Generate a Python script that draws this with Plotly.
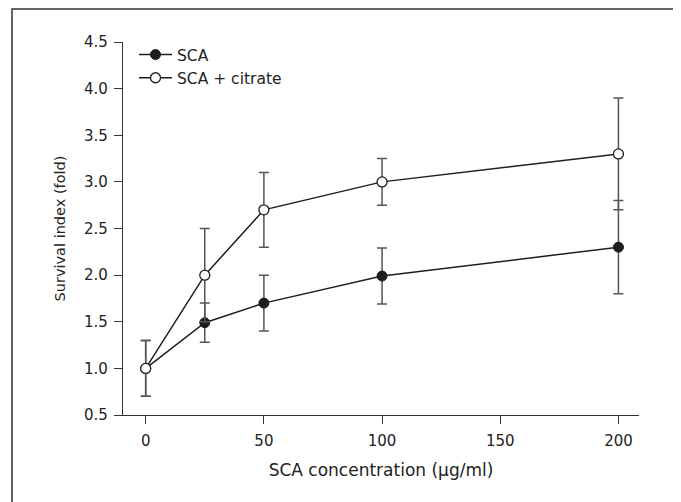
import plotly.graph_objects as go

# ---- data ----
conc = [0, 25, 50, 100, 200]
sca = [1.0, 1.49, 1.70, 1.99, 2.30]
sca_err = [0.30, 0.21, 0.30, 0.30, 0.50]
cit = [1.0, 2.0, 2.70, 3.0, 3.30]
cit_err = [0.30, 0.50, 0.40, 0.25, 0.60]
series_names = ["SCA", "SCA + citrate"]
y_ticks = [0.5, 1.0, 1.5, 2.0, 2.5, 3.0, 3.5, 4.0, 4.5]
x_ticks = [0, 50, 100, 150, 200]

FONT = "DejaVu Sans"
INK = "#1e1e1e"
ERR = "#555555"

fig = go.Figure()
fig.add_trace(go.Scatter(
    x=conc, y=sca, name=series_names[0], mode="lines+markers",
    line=dict(color=INK, width=1.5),
    marker=dict(size=10, color=INK, line=dict(color=INK, width=1)),
    error_y=dict(type="data", array=sca_err, color=ERR, thickness=1.5, width=5),
))
fig.add_trace(go.Scatter(
    x=conc, y=cit, name=series_names[1], mode="lines+markers",
    line=dict(color=INK, width=1.5),
    marker=dict(size=10, color="white", line=dict(color=INK, width=1.3)),
    error_y=dict(type="data", array=cit_err, color=ERR, thickness=1.5, width=5),
))

# page body has an 8px default margin; compensate so the plot sits where the reference has it
OFF = 8
W, H = 681 - OFF, 502 - OFF
L, R, T, B = 123 - OFF, 42, 42 - OFF, 87
pw, ph = W - L - R, H - T - B


def px_x(p):
    return (p - OFF - L) / pw


def px_y(p):
    return (H - B - (p - OFF)) / ph


fig.update_layout(
    width=W, height=H,
    margin=dict(l=L, r=R, t=T, b=B, pad=0),
    paper_bgcolor="white", plot_bgcolor="white",
    font=dict(family=FONT, size=15, color="#222"),
    showlegend=True,
    legend=dict(
        x=px_x(134), y=px_y(38), xanchor="left", yanchor="top",
        bgcolor="rgba(0,0,0,0)", font=dict(family=FONT, size=15.5, color="#222"),
        itemwidth=33, tracegroupgap=0,
    ),
    xaxis=dict(
        range=[-9.6, 208.7], tickvals=x_ticks, ticktext=[str(v) for v in x_ticks],
        showgrid=False, zeroline=False, showline=True, linecolor="#333", linewidth=1.3,
        ticks="outside", ticklen=8, tickwidth=1.3, tickcolor="#333",
        tickfont=dict(family=FONT, size=15, color="#222"), ticklabelstandoff=4,
        title=dict(text="SCA concentration (µg/ml)", font=dict(family=FONT, size=17, color="#222"), standoff=14),
    ),
    yaxis=dict(
        range=[0.5, 4.5], tickvals=y_ticks, ticktext=[f"{v:.1f}" for v in y_ticks],
        showgrid=False, zeroline=False, showline=True, linecolor="#333", linewidth=1.3,
        ticks="outside", ticklen=8, tickwidth=1.3, tickcolor="#333",
        tickfont=dict(family=FONT, size=15, color="#222"), ticklabelstandoff=3,
        title=dict(text="Survival index (fold)", font=dict(family=FONT, size=14.5, color="#222"), standoff=14),
    ),
    shapes=[dict(
        type="rect", xref="paper", yref="paper",
        x0=px_x(12), x1=px_x(675), y0=px_y(520), y1=px_y(9),
        line=dict(color="#333", width=1.5), fillcolor="rgba(0,0,0,0)", layer="below",
    )],
)

fig.write_html("out.html")
